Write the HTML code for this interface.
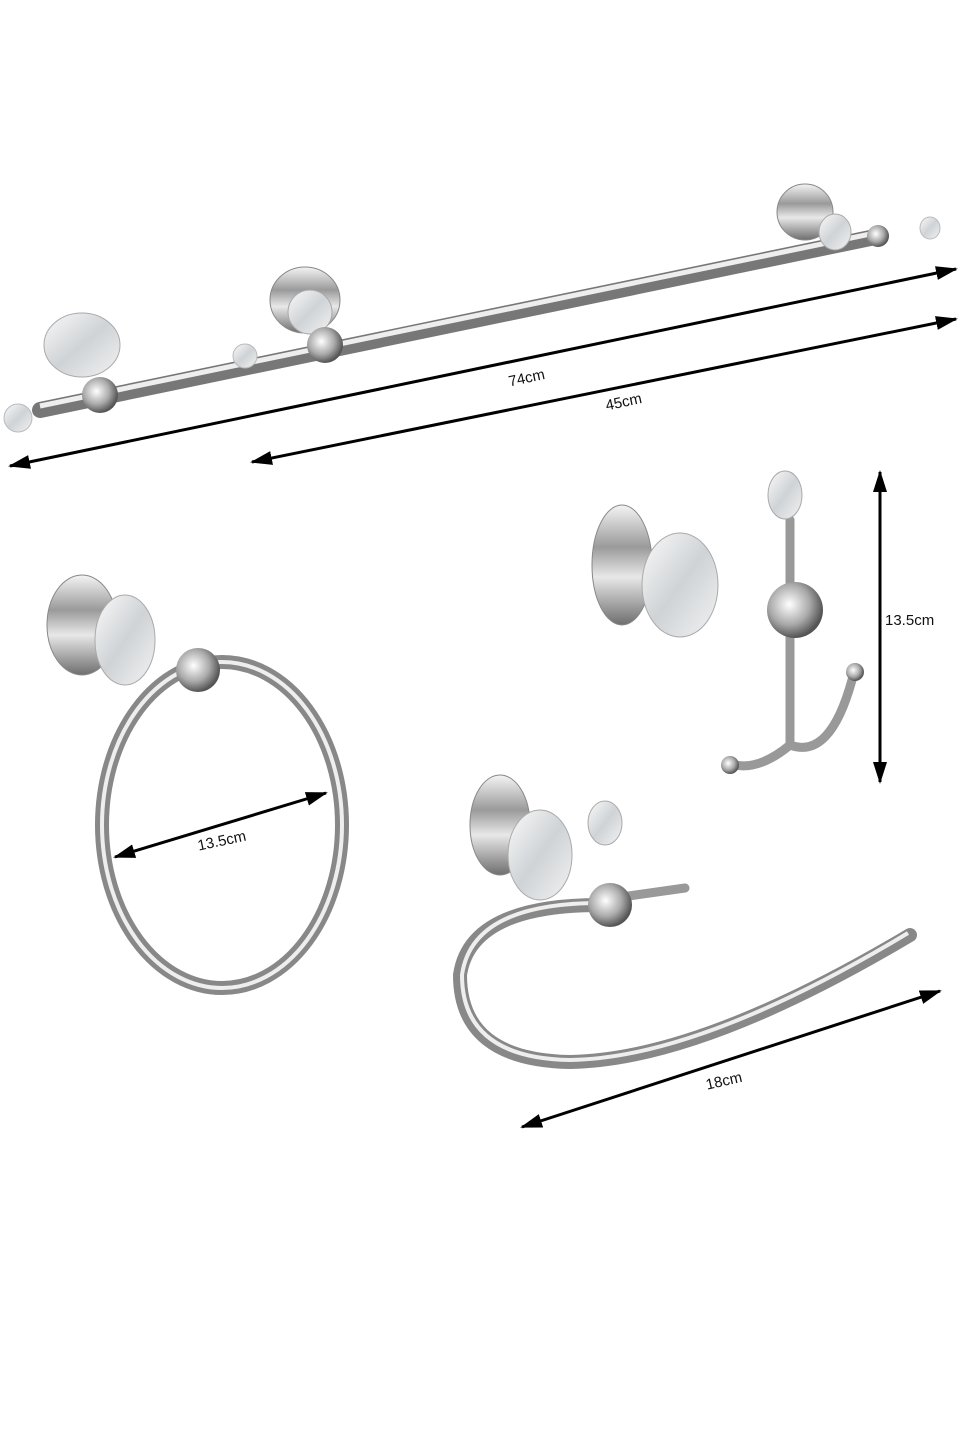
<!DOCTYPE html>
<html><head><meta charset="utf-8"><style>
html,body{margin:0;padding:0;background:#fff;}
svg{display:block}
text{font-family:"Liberation Sans",sans-serif;font-size:15px;fill:#111}
</style></head><body>
<svg width="963" height="1440" viewBox="0 0 963 1440" xmlns="http://www.w3.org/2000/svg">
<defs>
<linearGradient id="ch" x1="0" y1="0" x2="0" y2="1">
<stop offset="0" stop-color="#f4f4f4"/><stop offset="0.35" stop-color="#9a9a9a"/><stop offset="0.6" stop-color="#e8e8e8"/><stop offset="1" stop-color="#6e6e6e"/></linearGradient>
<radialGradient id="ball" cx="0.4" cy="0.4" r="0.6"><stop offset="0" stop-color="#fff"/><stop offset="0.6" stop-color="#aaa"/><stop offset="1" stop-color="#555"/></radialGradient>
<linearGradient id="gl" x1="0" y1="0" x2="1" y2="1"><stop offset="0" stop-color="#fafafa"/><stop offset="0.5" stop-color="#cfd3d6"/><stop offset="1" stop-color="#f2f2f2"/></linearGradient>
<marker id="ah" markerWidth="22" markerHeight="14" refX="20" refY="7" orient="auto-start-reverse" markerUnits="userSpaceOnUse">
<path d="M0,0 L22,7 L0,14 z" fill="#000"/></marker>
</defs>
<!-- towel bar -->
<line x1="40" y1="410" x2="880" y2="236" stroke="#777" stroke-width="16" stroke-linecap="round"/>
<line x1="40" y1="406" x2="880" y2="232" stroke="#eee" stroke-width="5"/>
<g>
<ellipse cx="82" cy="345" rx="38" ry="32" fill="url(#gl)" stroke="#aaa"/>
<circle cx="100" cy="395" r="18" fill="url(#ball)"/>
<ellipse cx="18" cy="418" rx="14" ry="14" fill="url(#gl)" stroke="#bbb"/>
<ellipse cx="245" cy="356" rx="12" ry="12" fill="url(#gl)" stroke="#bbb"/>
<ellipse cx="305" cy="300" rx="35" ry="33" fill="url(#ch)" stroke="#888"/>
<ellipse cx="310" cy="312" rx="22" ry="22" fill="url(#gl)" stroke="#aaa"/>
<circle cx="325" cy="345" r="18" fill="url(#ball)"/>
<ellipse cx="805" cy="212" rx="28" ry="28" fill="url(#ch)" stroke="#888"/>
<ellipse cx="835" cy="232" rx="16" ry="18" fill="url(#gl)" stroke="#aaa"/>
<circle cx="878" cy="236" r="11" fill="url(#ball)"/>
<ellipse cx="930" cy="228" rx="10" ry="11" fill="url(#gl)" stroke="#bbb"/>
</g>
<line x1="10" y1="466" x2="956" y2="269" stroke="#000" stroke-width="3" marker-start="url(#ah)" marker-end="url(#ah)"/>
<line x1="252" y1="462" x2="956" y2="319" stroke="#000" stroke-width="3" marker-start="url(#ah)" marker-end="url(#ah)"/>
<text x="508" y="382" transform="rotate(-12 530 376)">74cm</text>
<text x="605" y="406" transform="rotate(-12 627 400)">45cm</text>
<!-- ring -->
<ellipse cx="222" cy="825" rx="120" ry="163" fill="none" stroke="#888" stroke-width="14"/>
<ellipse cx="222" cy="825" rx="120" ry="163" fill="none" stroke="#eee" stroke-width="4"/>
<ellipse cx="82" cy="625" rx="35" ry="50" fill="url(#ch)" stroke="#888"/>
<ellipse cx="125" cy="640" rx="30" ry="45" fill="url(#gl)" stroke="#aaa"/>
<circle cx="198" cy="670" r="22" fill="url(#ball)"/>
<line x1="115" y1="857" x2="326" y2="793" stroke="#000" stroke-width="3" marker-start="url(#ah)" marker-end="url(#ah)"/>
<text x="197" y="846" transform="rotate(-12 220 840)">13.5cm</text>
<!-- hook -->
<ellipse cx="622" cy="565" rx="30" ry="60" fill="url(#ch)" stroke="#888"/>
<ellipse cx="680" cy="585" rx="38" ry="52" fill="url(#gl)" stroke="#aaa"/>
<path d="M790 520 L790 745 M790 745 Q760 770 735 765 M790 745 Q830 760 852 680" fill="none" stroke="#999" stroke-width="9" stroke-linecap="round"/>
<circle cx="730" cy="765" r="9" fill="url(#ball)"/>
<circle cx="855" cy="672" r="9" fill="url(#ball)"/>
<circle cx="795" cy="610" r="28" fill="url(#ball)"/>
<ellipse cx="785" cy="495" rx="17" ry="24" fill="url(#gl)" stroke="#aaa"/>
<line x1="880" y1="472" x2="880" y2="782" stroke="#000" stroke-width="3" marker-start="url(#ah)" marker-end="url(#ah)"/>
<text x="885" y="625">13.5cm</text>
<!-- paper holder -->
<path d="M600 905 Q470 905 460 975 Q460 1060 570 1062 Q700 1060 910 935" fill="none" stroke="#888" stroke-width="14" stroke-linecap="round"/>
<path d="M600 903 Q472 903 462 975 Q462 1058 570 1060 Q700 1058 908 933" fill="none" stroke="#eee" stroke-width="4"/>
<ellipse cx="500" cy="825" rx="30" ry="50" fill="url(#ch)" stroke="#888"/>
<ellipse cx="540" cy="855" rx="32" ry="45" fill="url(#gl)" stroke="#aaa"/>
<line x1="600" y1="900" x2="685" y2="888" stroke="#999" stroke-width="9" stroke-linecap="round"/>
<circle cx="610" cy="905" r="22" fill="url(#ball)"/>
<ellipse cx="605" cy="823" rx="17" ry="22" fill="url(#gl)" stroke="#aaa"/>
<line x1="522" y1="1127" x2="940" y2="991" stroke="#000" stroke-width="3" marker-start="url(#ah)" marker-end="url(#ah)"/>
<text x="705" y="1085" transform="rotate(-13 727 1078)">18cm</text>
</svg>
</body></html>
